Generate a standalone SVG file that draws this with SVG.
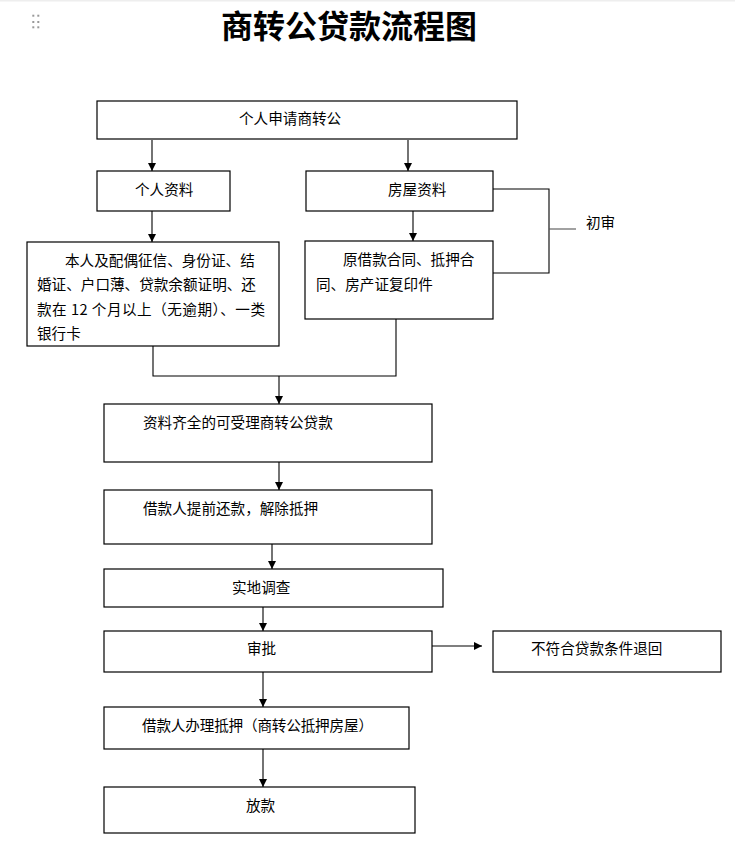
<svg xmlns="http://www.w3.org/2000/svg" width="735" height="856" viewBox="0 0 735 856">
<style>
.box{fill:#fff;stroke:#000;stroke-width:1.2}
.t{font-family:"Noto Sans CJK SC","Noto Sans",sans-serif;font-size:14.6px;fill:#000;dominant-baseline:central}
.title{font-family:"Noto Sans CJK SC","Noto Sans",sans-serif;font-size:32px;font-weight:bold;fill:#000;text-anchor:middle;dominant-baseline:central}
.ln{fill:none;stroke:#000;stroke-width:1.1}
.arr{fill:none;stroke:#000;stroke-width:1.1;marker-end:url(#ah)}
.dot{fill:#999}
</style>
<defs>
<marker id="ah" markerUnits="userSpaceOnUse" markerWidth="9" markerHeight="9" refX="8" refY="4" orient="auto">
<path d="M0,0 L8,4 L0,8 z" fill="#000"/>
</marker>
</defs>
<rect x="0" y="0" width="735" height="856" fill="#fff"/>
<rect x="0" y="0" width="735" height="1.5" fill="#eee"/>
<g id="handle">
<rect class="dot" x="32.3" y="14.7" width="2" height="2"/>
<rect class="dot" x="37.3" y="14.7" width="2" height="2"/>
<rect class="dot" x="32.3" y="21" width="2" height="2"/>
<rect class="dot" x="37.3" y="21" width="2" height="2"/>
<rect class="dot" x="32.3" y="26.3" width="2" height="2"/>
<rect class="dot" x="37.3" y="26.3" width="2" height="2"/>
</g>
<text class="title" x="349" y="24">商转公贷款流程图</text>

<g id="connectors">
<line class="arr" x1="152" y1="140" x2="152" y2="171"/>
<line class="arr" x1="408" y1="140" x2="408" y2="171"/>
<line class="arr" x1="152" y1="211" x2="152" y2="242"/>
<line class="arr" x1="413" y1="211" x2="413" y2="241"/>
<polyline class="ln" points="493,189 549,189 549,273 493,273"/>
<line x1="549" y1="229" x2="576" y2="229" stroke="#555" stroke-width="1.1"/>
<polyline class="ln" points="153,346 153,376 396,376 396,319"/>
<line class="arr" x1="279" y1="376" x2="279" y2="404"/>
<line class="arr" x1="279" y1="462" x2="279" y2="490"/>
<line class="arr" x1="272" y1="544" x2="272" y2="569"/>
<line class="arr" x1="263" y1="607" x2="263" y2="631"/>
<line class="arr" x1="432" y1="646" x2="482" y2="646"/>
<line class="arr" x1="263" y1="672" x2="263" y2="707"/>
<line class="arr" x1="263" y1="749" x2="263" y2="787"/>
</g>

<g id="n1"><rect class="box" x="97" y="101" width="420" height="38"/><text class="t" x="239" y="117.5">个人申请商转公</text></g>
<g id="n2"><rect class="box" x="97" y="171" width="133" height="40"/><text class="t" x="135" y="188.5">个人资料</text></g>
<g id="n3"><rect class="box" x="306" y="171" width="187" height="40"/><text class="t" x="388" y="188.5">房屋资料</text></g>
<g id="n4"><rect class="box" x="27" y="242" width="252" height="104"/>
<text class="t" x="65" y="259">本人及配偶征信、身份证、结</text>
<text class="t" x="37" y="283.5">婚证、户口薄、贷款余额证明、还</text>
<text class="t" x="37" y="308" textLength="228" lengthAdjust="spacing">款在 12 个月以上（无逾期）、一类</text>
<text class="t" x="37" y="332.5">银行卡</text></g>
<g id="n5"><rect class="box" x="305" y="241" width="188" height="78"/>
<text class="t" x="343" y="258.5">原借款合同、抵押合</text>
<text class="t" x="316" y="283.5">同、房产证复印件</text></g>
<g id="n-chushen"><text class="t" x="586" y="221.5">初审</text></g>
<g id="n6"><rect class="box" x="104" y="404" width="328" height="58"/><text class="t" x="143" y="421.5">资料齐全的可受理商转公贷款</text></g>
<g id="n7"><rect class="box" x="104" y="490" width="328" height="54"/><text class="t" x="143" y="507.5">借款人提前还款，解除抵押</text></g>
<g id="n8"><rect class="box" x="104" y="569" width="339" height="38"/><text class="t" x="232" y="586.5">实地调查</text></g>
<g id="n9"><rect class="box" x="104" y="631" width="328" height="41"/><text class="t" x="247" y="647.5">审批</text></g>
<g id="n10"><rect class="box" x="493" y="631" width="228" height="41"/><text class="t" x="531" y="647.5">不符合贷款条件退回</text></g>
<g id="n11"><rect class="box" x="104" y="707" width="305" height="42"/><text class="t" x="142" y="724.5" textLength="231" lengthAdjust="spacing">借款人办理抵押（商转公抵押房屋）</text></g>
<g id="n12"><rect class="box" x="104" y="787" width="311" height="46"/><text class="t" x="246" y="804.5">放款</text></g>
</svg>
